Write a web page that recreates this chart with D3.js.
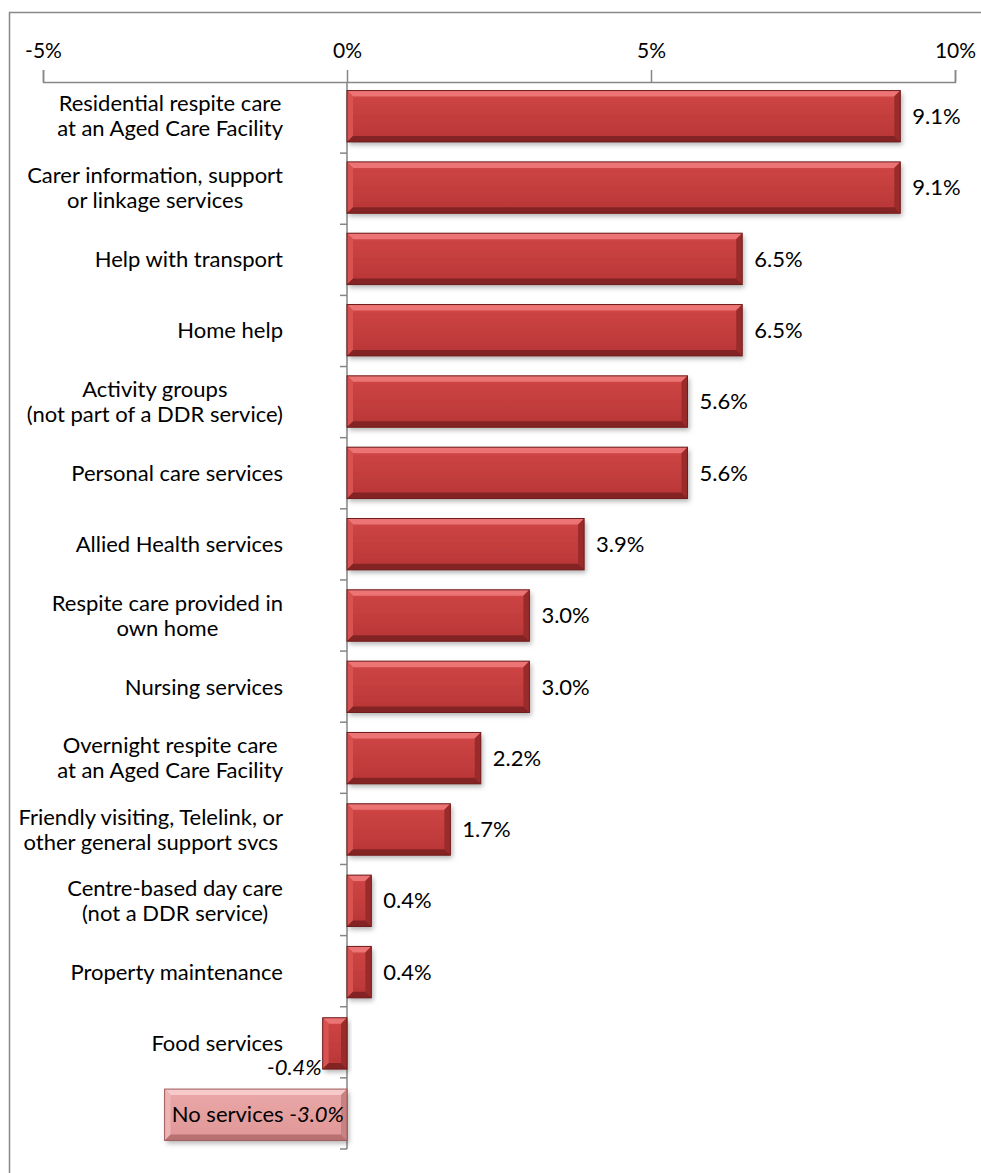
<!DOCTYPE html>
<html>
<head>
<meta charset="utf-8">
<script src="https://cdn.jsdelivr.net/npm/d3@7"></script>
<style>
  body { margin: 0; background: #fff; }
  svg { display: block; font-family: Lato, "Open Sans", sans-serif; }
</style>
</head>
<body>
<svg width="981" height="1173"></svg>
<script>
// data
const categories = [
  ["Residential respite care", "at an Aged Care Facility"],
  ["Carer information, support", "or linkage services"],
  ["Help with transport"],
  ["Home help"],
  ["Activity groups", "(not part of a DDR service)"],
  ["Personal care services"],
  ["Allied Health services"],
  ["Respite care provided in", "own home"],
  ["Nursing services"],
  ["Overnight respite care", "at an Aged Care Facility"],
  ["Friendly visiting, Telelink, or", "other general support svcs"],
  ["Centre-based day care", "(not a DDR service)"],
  ["Property maintenance"],
  ["Food services"],
  ["No services"]
]
const values = [9.1, 9.1, 6.5, 6.5, 5.6, 5.6, 3.9, 3.0, 3.0, 2.2, 1.7, 0.4, 0.4, -0.4, -3.0]
const xTicks = [-5, 0, 5, 10]

const svg = d3.select("svg")

// outer chart border
svg.append("rect")
  .attr("x", 9.5).attr("y", 12.5)
  .attr("width", 990).attr("height", 1200)
  .attr("fill", "none")
  .attr("stroke", "#888")
  .attr("stroke-width", 1.5)

const defs = svg.append("defs")
const shadow = defs.append("filter").attr("id", "shadow")
  .attr("x", "-10%").attr("y", "-20%").attr("width", "130%").attr("height", "160%")
shadow.append("feDropShadow")
  .attr("dx", 2).attr("dy", 3).attr("stdDeviation", 2.5)
  .attr("flood-color", "#000").attr("flood-opacity", 0.3)

const redGrad = defs.append("linearGradient").attr("id", "red").attr("x1", 0).attr("y1", 0).attr("x2", 0).attr("y2", 1)
redGrad.append("stop").attr("offset", "0%").attr("stop-color", "#d04646")
redGrad.append("stop").attr("offset", "100%").attr("stop-color", "#b83636")
const pinkGrad = defs.append("linearGradient").attr("id", "pink").attr("x1", 0).attr("y1", 0).attr("x2", 0).attr("y2", 1)
pinkGrad.append("stop").attr("offset", "0%").attr("stop-color", "#eaa8a8")
pinkGrad.append("stop").attr("offset", "100%").attr("stop-color", "#e09696")

const x = d3.scaleLinear()
  .domain([-5, 10])
  .range([43, 955])

const y = d3.scaleBand()
  .domain(d3.range(values.length))
  .range([82, 1149])
  .paddingInner(0.28)
  .paddingOuter(0.12)

const fs = "22px"

// top axis
const xAxis = svg.append("g")
  .attr("transform", "translate(0, 82)")
  .call(d3.axisTop(x).tickValues(xTicks).tickSize(12).tickPadding(12).tickFormat(d => d + "%"))
xAxis.select(".domain").attr("stroke", "#868686").attr("stroke-width", 1.5)
xAxis.selectAll(".tick line").attr("stroke", "#868686").attr("stroke-width", 1.5)
xAxis.selectAll(".tick text")
  .attr("fill", "#000")
  .style("font-size", "21px")
  .style("font-family", "Lato, sans-serif")

// vertical axis at 0 with ticks on band boundaries
const bounds = d3.range(values.length + 1).map(i => 82 + i * (1149 - 82) / values.length)
svg.append("line")
  .attr("x1", x(0)).attr("x2", x(0))
  .attr("y1", 82).attr("y2", 1149)
  .attr("stroke", "#868686").attr("stroke-width", 1.5)
svg.selectAll("line.ytick")
  .data(bounds.slice(1))
  .enter().append("line")
  .attr("class", "ytick")
  .attr("x1", x(0) - 7).attr("x2", x(0))
  .attr("y1", d => d).attr("y2", d => d)
  .attr("stroke", "#868686").attr("stroke-width", 1.5)

// bevelled bars
const bev = 6
const bars = svg.append("g")
values.forEach((v, i) => {
  const last = i === values.length - 1
  const x0 = Math.min(x(0), x(v)), x1 = Math.max(x(0), x(v))
  const y0 = y(i), y1 = y(i) + y.bandwidth()
  const g = bars.append("g")
  g.append("rect")
    .attr("x", x0).attr("y", y0)
    .attr("width", x1 - x0).attr("height", y1 - y0)
    .attr("fill", last ? "url(#pink)" : "url(#red)")
    .attr("filter", "url(#shadow)")
  const b = Math.min(bev, (x1 - x0) / 2)
  const edges = last
    ? ["#f6caca", "#eeb4b4", "#c98282", "#b87070"]
    : ["#ec7474", "#d85252", "#9a2b2b", "#842323"]
  const polys = [
    [[x0, y0], [x1, y0], [x1 - b, y0 + bev], [x0 + b, y0 + bev]],
    [[x0, y0], [x0 + b, y0 + bev], [x0 + b, y1 - bev], [x0, y1]],
    [[x1, y0], [x1, y1], [x1 - b, y1 - bev], [x1 - b, y0 + bev]],
    [[x0, y1], [x0 + b, y1 - bev], [x1 - b, y1 - bev], [x1, y1]]
  ]
  polys.forEach((p, k) => {
    g.append("polygon")
      .attr("points", p.map(d => d.join(",")).join(" "))
      .attr("fill", edges[k])
  })
  g.append("rect")
    .attr("x", x0).attr("y", y0)
    .attr("width", x1 - x0).attr("height", y1 - y0)
    .attr("fill", "none")
    .attr("stroke", last ? "#a05c5c" : "#6e1c1c")
    .attr("stroke-width", 1)
})

// category labels (centered lines, block right-aligned)
const labelRight = 283
categories.forEach((lines, i) => {
  if (i === values.length - 1) return
  const cy = y(i) + y.bandwidth() / 2
  const t = svg.append("text")
    .style("font-size", fs)
    .attr("fill", "#000")
    .attr("text-anchor", "middle")
  const lh = 25
  const top = i === 13 ? cy : cy - (lines.length - 1) * lh / 2
  lines.forEach((l, k) => {
    t.append("tspan").attr("x", 0).attr("y", top + k * lh).attr("dy", "0.35em").text(l)
  })
  const w = d3.max(t.selectAll("tspan").nodes(), n => n.getComputedTextLength())
  t.selectAll("tspan").attr("x", labelRight - w / 2)
})

// value labels
values.forEach((v, i) => {
  const cy = y(i) + y.bandwidth() / 2
  if (v >= 0) {
    svg.append("text")
      .attr("x", x(v) + 12).attr("y", cy).attr("dy", "0.35em")
      .style("font-size", fs)
      .text(v.toFixed(1) + "%")
  } else if (i < values.length - 1) {
    svg.append("text")
      .attr("x", x(v) - 1).attr("y", cy + 24).attr("dy", "0.35em")
      .attr("text-anchor", "end")
      .style("font-size", fs).style("font-style", "italic")
      .text(v.toFixed(1) + "%")
  } else {
    const t = svg.append("text")
      .attr("x", x(0) - 3).attr("y", cy).attr("dy", "0.35em")
      .attr("text-anchor", "end")
      .style("font-size", fs)
    t.append("tspan").text(categories[i][0] + " ")
    t.append("tspan").style("font-style", "italic").text(v.toFixed(1) + "%")
  }
})
</script>
</body>
</html>
